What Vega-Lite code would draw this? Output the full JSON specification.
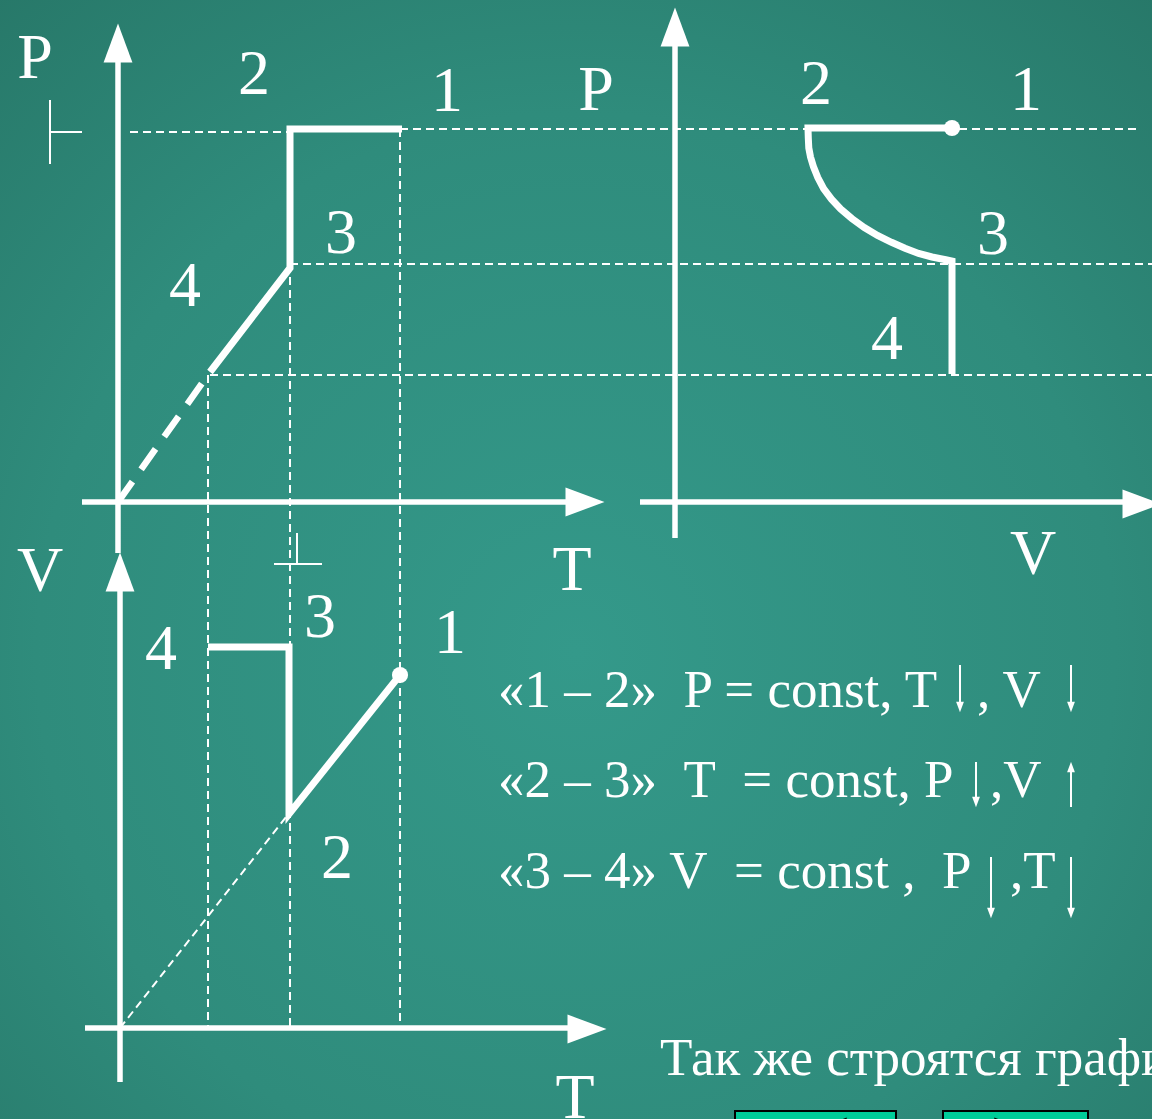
{
  "$schema": "https://vega.github.io/schema/vega-lite/v6.json",
  "width": 1152,
  "height": 1119,
  "autosize": {"type": "fit", "contains": "padding"},
  "padding": 0,
  "background": "#2a8070",
  "config": {"view": {"stroke": null}},
  "datasets": {
    "bg": [{"x": 0, "y": 0, "x2": 1152, "y2": 1119}],
    "thin": [
      {"x": 130, "y": 132, "x2": 292, "y2": 132},
      {"x": 400, "y": 129, "x2": 1140, "y2": 129},
      {"x": 290, "y": 264, "x2": 1152, "y2": 264},
      {"x": 210, "y": 375, "x2": 1152, "y2": 375},
      {"x": 208, "y": 375, "x2": 208, "y2": 1028},
      {"x": 290, "y": 264, "x2": 290, "y2": 1028},
      {"x": 400, "y": 129, "x2": 400, "y2": 1028},
      {"x": 120, "y": 1028, "x2": 290, "y2": 812}
    ],
    "thickdash": [{"x": 118, "y": 502, "x2": 210, "y2": 372}],
    "axes": [
      {"x": 118, "y": 553, "x2": 118, "y2": 58},
      {"x": 82, "y": 502, "x2": 570, "y2": 502},
      {"x": 120, "y": 1082, "x2": 120, "y2": 588},
      {"x": 85, "y": 1028, "x2": 572, "y2": 1028},
      {"x": 675, "y": 538, "x2": 675, "y2": 42},
      {"x": 640, "y": 502, "x2": 1125, "y2": 502}
    ],
    "heads": [
      {"x": 118, "y": 43, "dir": "up"},
      {"x": 585, "y": 502, "dir": "right"},
      {"x": 120, "y": 572, "dir": "up"},
      {"x": 587, "y": 1029, "dir": "right"},
      {"x": 675, "y": 27, "dir": "up"},
      {"x": 1142, "y": 504, "dir": "right"}
    ],
    "paths": [
      {"g": 1, "o": 1, "x": 210, "y": 372},
      {"g": 1, "o": 2, "x": 290, "y": 268},
      {"g": 1, "o": 3, "x": 290, "y": 129},
      {"g": 1, "o": 4, "x": 402, "y": 129},
      {"g": 2, "o": 1, "x": 208, "y": 647},
      {"g": 2, "o": 2, "x": 289, "y": 647},
      {"g": 2, "o": 3, "x": 289, "y": 814},
      {"g": 2, "o": 4, "x": 400, "y": 675},
      {"g": 3, "o": 1, "x": 952, "y": 128},
      {"g": 3, "o": 2, "x": 808, "y": 128},
      {"g": 3, "o": 3, "x": 808.3, "y": 138},
      {"g": 3, "o": 4, "x": 808.8, "y": 148},
      {"g": 3, "o": 5, "x": 810.5, "y": 157},
      {"g": 3, "o": 6, "x": 813.4, "y": 166.5},
      {"g": 3, "o": 7, "x": 817.8, "y": 177.5},
      {"g": 3, "o": 8, "x": 823.6, "y": 188.7},
      {"g": 3, "o": 9, "x": 831.5, "y": 199.2},
      {"g": 3, "o": 10, "x": 840.6, "y": 209},
      {"g": 3, "o": 11, "x": 851.8, "y": 218.5},
      {"g": 3, "o": 12, "x": 864.3, "y": 227.5},
      {"g": 3, "o": 13, "x": 877.5, "y": 235.5},
      {"g": 3, "o": 14, "x": 891.5, "y": 242.3},
      {"g": 3, "o": 15, "x": 905, "y": 248.2},
      {"g": 3, "o": 16, "x": 918.6, "y": 253.4},
      {"g": 3, "o": 17, "x": 932, "y": 257},
      {"g": 3, "o": 18, "x": 945.8, "y": 259.7},
      {"g": 3, "o": 19, "x": 952, "y": 261},
      {"g": 3, "o": 20, "x": 952, "y": 374}
    ],
    "dots": [{"x": 400, "y": 675}, {"x": 952, "y": 128}],
    "marks": [
      {"x": 50, "y": 100, "x2": 50, "y2": 164},
      {"x": 50, "y": 132, "x2": 82, "y2": 132},
      {"x": 297, "y": 533, "x2": 297, "y2": 564},
      {"x": 274, "y": 564, "x2": 322, "y2": 564}
    ],
    "labels": [
      {"x": 35, "y": 78, "t": "P"},
      {"x": 254, "y": 94, "t": "2"},
      {"x": 447, "y": 111, "t": "1"},
      {"x": 341, "y": 253, "t": "3"},
      {"x": 185, "y": 306, "t": "4"},
      {"x": 572, "y": 590, "t": "T"},
      {"x": 40, "y": 591, "t": "V"},
      {"x": 161, "y": 669, "t": "4"},
      {"x": 320, "y": 637, "t": "3"},
      {"x": 450, "y": 653, "t": "1"},
      {"x": 337, "y": 878, "t": "2"},
      {"x": 575, "y": 1118, "t": "T"},
      {"x": 596, "y": 110, "t": "P"},
      {"x": 816, "y": 104, "t": "2"},
      {"x": 1026, "y": 110, "t": "1"},
      {"x": 993, "y": 254, "t": "3"},
      {"x": 887, "y": 359, "t": "4"},
      {"x": 1033, "y": 574, "t": "V"}
    ],
    "block": [
      {"x": 498, "y": 707, "t": "«1 – 2»\u00a0\u00a0P = const, T"},
      {"x": 977, "y": 707, "t": ", V"},
      {"x": 498, "y": 797, "t": "«2 – 3»\u00a0\u00a0T\u00a0\u00a0= const, P"},
      {"x": 990, "y": 797, "t": ",V"},
      {"x": 498, "y": 888, "t": "«3 – 4» V\u00a0\u00a0= const ,\u00a0\u00a0P"},
      {"x": 1010, "y": 888, "t": ",T"},
      {"x": 660, "y": 1075, "t": "Так же строятся графики"}
    ],
    "shafts": [
      {"x": 960, "y": 665, "y2": 708},
      {"x": 1071, "y": 665, "y2": 708},
      {"x": 976, "y": 762, "y2": 803},
      {"x": 1071, "y": 766, "y2": 807},
      {"x": 991, "y": 857, "y2": 914},
      {"x": 1071, "y": 857, "y2": 914}
    ],
    "theads": [
      {"x": 960, "y": 707, "dir": "down"},
      {"x": 1071, "y": 707, "dir": "down"},
      {"x": 976, "y": 802, "dir": "down"},
      {"x": 1071, "y": 767, "dir": "up"},
      {"x": 991, "y": 913, "dir": "down"},
      {"x": 1071, "y": 913, "dir": "down"}
    ],
    "buttons": [
      {"x": 735, "y": 1111, "x2": 896, "y2": 1135},
      {"x": 943, "y": 1111, "x2": 1088, "y2": 1135}
    ],
    "bicons": [
      {"x": 838, "y": 1124, "dir": "left"},
      {"x": 1003, "y": 1124, "dir": "right"}
    ]
  },
  "layer": [
    {
      "data": {"name": "bg"},
      "mark": {
        "type": "rect",
        "fill": {
          "gradient": "radial",
          "x1": 0.5, "y1": 0.58, "r1": 0,
          "x2": 0.5, "y2": 0.58, "r2": 0.85,
          "stops": [
            {"offset": 0, "color": "#34998a"},
            {"offset": 0.55, "color": "#2f8c7c"},
            {"offset": 1, "color": "#257263"}
          ]
        }
      },
      "encoding": {
        "x": {"field": "x", "type": "quantitative", "scale": {"domain": [0, 1152], "nice": false, "zero": false}, "axis": null},
        "x2": {"field": "x2"},
        "y": {"field": "y", "type": "quantitative", "scale": {"domain": [0, 1119], "nice": false, "zero": false, "reverse": true}, "axis": null},
        "y2": {"field": "y2"}
      }
    },
    {
      "data": {"name": "thin"},
      "mark": {"type": "rule", "color": "white", "strokeWidth": 2, "strokeDash": [8, 5], "clip": true},
      "encoding": {
        "x": {"field": "x", "type": "quantitative", "scale": {"domain": [0, 1152], "nice": false, "zero": false}, "axis": null},
        "x2": {"field": "x2"},
        "y": {"field": "y", "type": "quantitative", "scale": {"domain": [0, 1119], "nice": false, "zero": false, "reverse": true}, "axis": null},
        "y2": {"field": "y2"}
      }
    },
    {
      "data": {"name": "thickdash"},
      "mark": {"type": "rule", "color": "white", "strokeWidth": 6.5, "strokeDash": [25, 15]},
      "encoding": {
        "x": {"field": "x", "type": "quantitative", "scale": {"domain": [0, 1152], "nice": false, "zero": false}, "axis": null},
        "x2": {"field": "x2"},
        "y": {"field": "y", "type": "quantitative", "scale": {"domain": [0, 1119], "nice": false, "zero": false, "reverse": true}, "axis": null},
        "y2": {"field": "y2"}
      }
    },
    {
      "data": {"name": "axes"},
      "mark": {"type": "rule", "color": "white", "strokeWidth": 5.5, "clip": true},
      "encoding": {
        "x": {"field": "x", "type": "quantitative", "scale": {"domain": [0, 1152], "nice": false, "zero": false}, "axis": null},
        "x2": {"field": "x2"},
        "y": {"field": "y", "type": "quantitative", "scale": {"domain": [0, 1119], "nice": false, "zero": false, "reverse": true}, "axis": null},
        "y2": {"field": "y2"}
      }
    },
    {
      "data": {"name": "heads"},
      "mark": {"type": "point", "filled": true, "color": "white", "opacity": 1, "size": 1521, "strokeWidth": 0, "clip": true},
      "encoding": {
        "x": {"field": "x", "type": "quantitative", "scale": {"domain": [0, 1152], "nice": false, "zero": false}, "axis": null},
        "y": {"field": "y", "type": "quantitative", "scale": {"domain": [0, 1119], "nice": false, "zero": false, "reverse": true}, "axis": null},
        "shape": {"field": "dir", "type": "nominal", "legend": null,
          "scale": {"domain": ["up", "right", "down", "left"], "range": ["M0,-1L0.74,1L-0.74,1Z", "M1,0L-1,0.74L-1,-0.74Z", "M0,1L0.74,-1L-0.74,-1Z", "M-1,0L1,0.74L1,-0.74Z"]}}
      }
    },
    {
      "data": {"name": "paths"},
      "mark": {"type": "line", "color": "white", "strokeWidth": 7, "strokeJoin": "miter", "strokeCap": "butt"},
      "encoding": {
        "x": {"field": "x", "type": "quantitative", "scale": {"domain": [0, 1152], "nice": false, "zero": false}, "axis": null},
        "y": {"field": "y", "type": "quantitative", "scale": {"domain": [0, 1119], "nice": false, "zero": false, "reverse": true}, "axis": null},
        "detail": {"field": "g", "type": "nominal"},
        "order": {"field": "o", "type": "quantitative"}
      }
    },
    {
      "data": {"name": "dots"},
      "mark": {"type": "circle", "color": "white", "opacity": 1, "size": 260},
      "encoding": {
        "x": {"field": "x", "type": "quantitative", "scale": {"domain": [0, 1152], "nice": false, "zero": false}, "axis": null},
        "y": {"field": "y", "type": "quantitative", "scale": {"domain": [0, 1119], "nice": false, "zero": false, "reverse": true}, "axis": null}
      }
    },
    {
      "data": {"name": "marks"},
      "mark": {"type": "rule", "color": "white", "strokeWidth": 2},
      "encoding": {
        "x": {"field": "x", "type": "quantitative", "scale": {"domain": [0, 1152], "nice": false, "zero": false}, "axis": null},
        "x2": {"field": "x2"},
        "y": {"field": "y", "type": "quantitative", "scale": {"domain": [0, 1119], "nice": false, "zero": false, "reverse": true}, "axis": null},
        "y2": {"field": "y2"}
      }
    },
    {
      "data": {"name": "labels"},
      "mark": {"type": "text", "color": "white", "font": "Liberation Serif", "fontSize": 64, "align": "center", "baseline": "alphabetic", "clip": true},
      "encoding": {
        "x": {"field": "x", "type": "quantitative", "scale": {"domain": [0, 1152], "nice": false, "zero": false}, "axis": null},
        "y": {"field": "y", "type": "quantitative", "scale": {"domain": [0, 1119], "nice": false, "zero": false, "reverse": true}, "axis": null},
        "text": {"field": "t", "type": "nominal"}
      }
    },
    {
      "data": {"name": "block"},
      "mark": {"type": "text", "color": "white", "font": "Liberation Serif", "fontSize": 53, "align": "left", "baseline": "alphabetic", "clip": true},
      "encoding": {
        "x": {"field": "x", "type": "quantitative", "scale": {"domain": [0, 1152], "nice": false, "zero": false}, "axis": null},
        "y": {"field": "y", "type": "quantitative", "scale": {"domain": [0, 1119], "nice": false, "zero": false, "reverse": true}, "axis": null},
        "text": {"field": "t", "type": "nominal"}
      }
    },
    {
      "data": {"name": "shafts"},
      "mark": {"type": "rule", "color": "white", "strokeWidth": 2},
      "encoding": {
        "x": {"field": "x", "type": "quantitative", "scale": {"domain": [0, 1152], "nice": false, "zero": false}, "axis": null},
        "y": {"field": "y", "type": "quantitative", "scale": {"domain": [0, 1119], "nice": false, "zero": false, "reverse": true}, "axis": null},
        "y2": {"field": "y2"}
      }
    },
    {
      "data": {"name": "theads"},
      "mark": {"type": "point", "filled": true, "color": "white", "opacity": 1, "size": 110, "strokeWidth": 0},
      "encoding": {
        "x": {"field": "x", "type": "quantitative", "scale": {"domain": [0, 1152], "nice": false, "zero": false}, "axis": null},
        "y": {"field": "y", "type": "quantitative", "scale": {"domain": [0, 1119], "nice": false, "zero": false, "reverse": true}, "axis": null},
        "shape": {"field": "dir", "type": "nominal", "legend": null,
          "scale": {"domain": ["up", "right", "down", "left"], "range": ["M0,-1L0.74,1L-0.74,1Z", "M1,0L-1,0.74L-1,-0.74Z", "M0,1L0.74,-1L-0.74,-1Z", "M-1,0L1,0.74L1,-0.74Z"]}}
      }
    },
    {
      "data": {"name": "buttons"},
      "mark": {"type": "rect", "fill": "#00cc99", "stroke": "black", "strokeWidth": 2, "clip": true},
      "encoding": {
        "x": {"field": "x", "type": "quantitative", "scale": {"domain": [0, 1152], "nice": false, "zero": false}, "axis": null},
        "x2": {"field": "x2"},
        "y": {"field": "y", "type": "quantitative", "scale": {"domain": [0, 1119], "nice": false, "zero": false, "reverse": true}, "axis": null},
        "y2": {"field": "y2"}
      }
    },
    {
      "data": {"name": "bicons"},
      "mark": {"type": "point", "filled": true, "color": "black", "opacity": 1, "size": 300, "strokeWidth": 0, "clip": true},
      "encoding": {
        "x": {"field": "x", "type": "quantitative", "scale": {"domain": [0, 1152], "nice": false, "zero": false}, "axis": null},
        "y": {"field": "y", "type": "quantitative", "scale": {"domain": [0, 1119], "nice": false, "zero": false, "reverse": true}, "axis": null},
        "shape": {"field": "dir", "type": "nominal", "legend": null,
          "scale": {"domain": ["up", "right", "down", "left"], "range": ["M0,-1L0.74,1L-0.74,1Z", "M1,0L-1,0.74L-1,-0.74Z", "M0,1L0.74,-1L-0.74,-1Z", "M-1,0L1,0.74L1,-0.74Z"]}}
      }
    }
  ]
}
